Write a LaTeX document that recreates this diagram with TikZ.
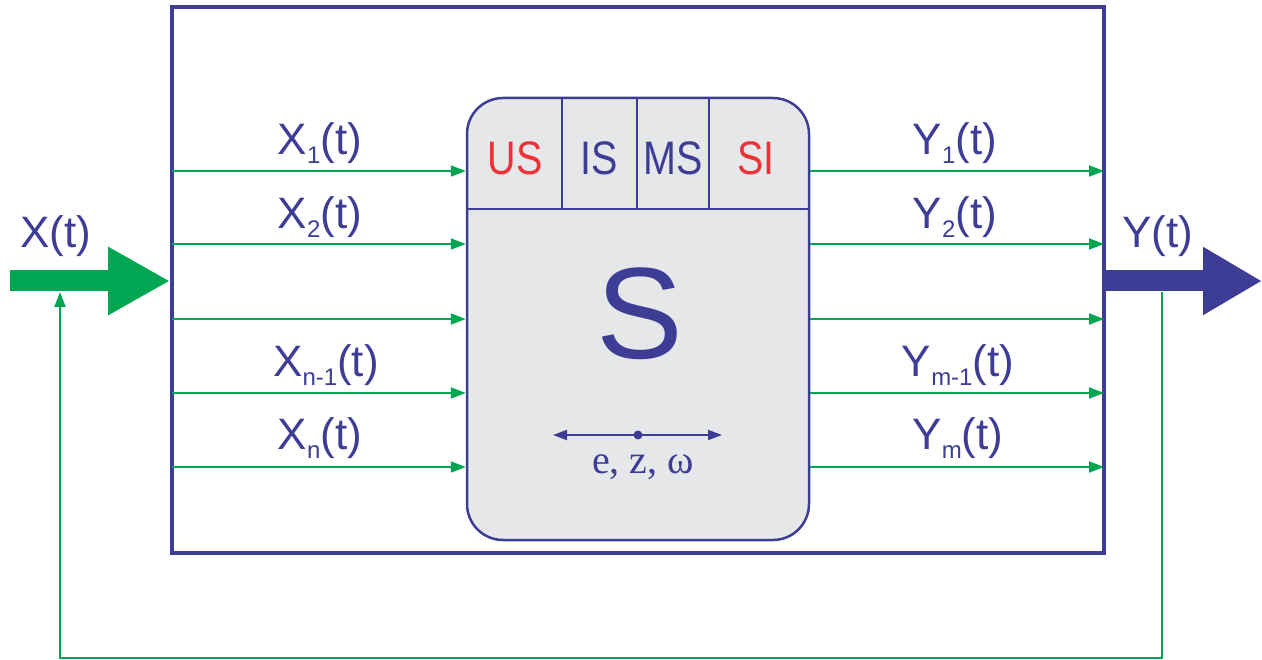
\documentclass[tikz,border=0pt]{standalone}
\usepackage{fontspec}
\setmainfont{Liberation Sans}
\newfontfamily\condfont[FakeStretch=0.84]{Liberation Sans}
\newfontfamily\serffont{Liberation Serif}
\usetikzlibrary{arrows.meta,calc}
\definecolor{dblue}{RGB}{61,61,150}
\definecolor{dgreen}{RGB}{0,166,81}
\definecolor{dred}{RGB}{237,50,55}
\definecolor{lgray}{RGB}{230,231,233}
\newcommand\mysub[1]{\raisebox{-9pt}{\fontsize{24}{24}\selectfont #1}}
\begin{document}
\begin{tikzpicture}[x=1pt,y=-1pt,
  lbl/.style={text=dblue,font=\fontsize{44}{46}\selectfont,inner sep=0pt},
  cell/.style={font=\condfont\fontsize{47}{48}\selectfont,inner sep=0pt},
  sig/.style={draw=dgreen,line width=2pt,-{Triangle[length=15pt,width=11pt]}},
  fb/.style={draw=dgreen,line width=2pt},
]
\useasboundingbox (0,0) rectangle (1262,660);
% outer frame
\node[draw=dblue,line width=4pt,minimum width=932pt,minimum height=546pt,inner sep=0pt] (F) at (638,280) {};
% central system box
\node[draw=dblue,fill=lgray,line width=2.5pt,rounded corners=36pt,minimum width=342pt,minimum height=442pt,inner sep=0pt] (S) at (638,319) {};
\coordinate (topL) at (467,209);
\coordinate (topR) at (809,209);
\draw[dblue,line width=1.5pt] (topL) -- (topR);
\draw[dblue,line width=1.5pt] (562,98) -- (562,209);
\draw[dblue,line width=1.5pt] (637,98) -- (637,209);
\draw[dblue,line width=1.5pt] (709,98) -- (709,209);
\node[cell,text=dred] (us) at (515,158) {US};
\node[cell,text=dblue] (is) at (599,158) {IS};
\node[cell,text=dblue] (ms) at (673,158) {MS};
\node[cell,text=dred] (si) at (756,158) {SI};
\node[text=dblue,font=\fontsize{130}{132}\selectfont,inner sep=0pt] (bigS) at (640,314) {S};
% e z omega axis
\coordinate (axL) at (553,435);
\coordinate (axR) at (722,435);
\coordinate (axM) at (638,435);
\draw[dblue,line width=2pt,{Triangle[length=14pt,width=10pt]}-{Triangle[length=14pt,width=10pt]}] (axL) -- (axR);
\fill[dblue] (axM) circle (4.5pt);
\node[text=dblue,font=\serffont\fontsize{40}{42}\selectfont,inner sep=0pt] (ezw) at (643,467) {e, z, ω};
% input and output signals
\foreach \i/\yy in {1/171,2/244,3/319,4/393,5/467}{
  \coordinate (in\i) at (172,\yy);
  \coordinate (out\i) at (1104,\yy);
  \draw[sig] (in\i) -- (S.west |- in\i);
  \draw[sig] (S.east |- out\i) -- (out\i);
}
\node[lbl] (x1) at (320,143) {X\mysub{1}(t)};
\node[lbl] (x2) at (320,217) {X\mysub{2}(t)};
\node[lbl] (xn1) at (326,365) {X\mysub{n-1}(t)};
\node[lbl] (xn) at (320,438) {X\mysub{n}(t)};
\node[lbl] (y1) at (955,143) {Y\mysub{1}(t)};
\node[lbl] (y2) at (955,217) {Y\mysub{2}(t)};
\node[lbl] (ym1) at (958,365) {Y\mysub{m-1}(t)};
\node[lbl] (ym) at (958,438) {Y\mysub{m}(t)};
% big arrows
\coordinate (Xs) at (10,281);
\coordinate (Ys) at (1262,281);
\draw[dgreen,line width=21pt,-{Triangle[length=62pt,width=64pt]}] (Xs) -- (F.west |- Xs);
\draw[dblue,line width=21pt,-{Triangle[length=59pt,width=64pt]}] (F.east |- Ys) -- (Ys);
\node[lbl] (X) at (56,236) {X(t)};
\node[lbl] (Y) at (1158,236) {Y(t)};
% feedback
\coordinate (fbA) at (1162,292);
\coordinate (fbB) at (1162,658);
\coordinate (fbC) at (60,658);
\coordinate (fbD) at (60,292);
\draw[fb,-{Triangle[length=15pt,width=11pt]}] (fbA) -- (fbB) -- (fbC) -- (fbD);
\end{tikzpicture}
\end{document}
